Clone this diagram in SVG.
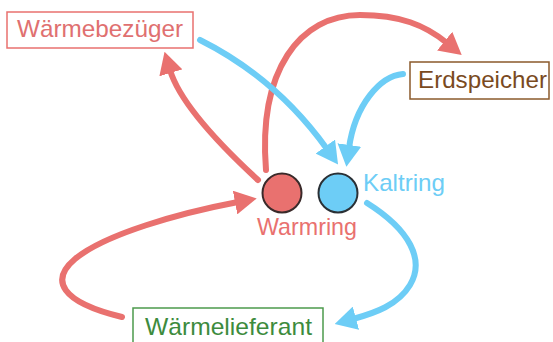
<svg xmlns="http://www.w3.org/2000/svg" width="553" height="342" viewBox="0 0 553 342">
<defs>
<style>
text{font-family:"Liberation Sans",Arial,sans-serif;font-size:24px}
.red{fill:none;stroke:#E9716F;stroke-width:6;stroke-linecap:round}
.blue{fill:none;stroke:#6DCDF6;stroke-width:6;stroke-linecap:round}
</style>
<marker id="ar" viewBox="0 0 22 24" refX="3" refY="12" markerWidth="22" markerHeight="24" markerUnits="userSpaceOnUse" orient="auto"><path d="M0,0 L22,12 L0,24 z" fill="#E9716F"/></marker>
<marker id="ab" viewBox="0 0 22 24" refX="3" refY="12" markerWidth="22" markerHeight="24" markerUnits="userSpaceOnUse" orient="auto"><path d="M0,0 L22,12 L0,24 z" fill="#6DCDF6"/></marker>
</defs>
<rect width="553" height="342" fill="#fff"/>
<g id="connectors">
<path class="red" d="M258,180 Q182,110 170,70" marker-end="url(#ar)"/>
<path class="red" d="M266,170 C258,70 300,15 360,15 C400,15 425,25 447,43" marker-end="url(#ar)"/>
<path class="blue" d="M200,40 Q276,78 327,149" marker-end="url(#ab)"/>
<path class="blue" d="M403,74 C380,76 355,105 349,148" marker-end="url(#ab)"/>
<path class="blue" d="M367,203 C410,230 425,260 410,285 C398,305 375,313 353,319" marker-end="url(#ab)"/>
<path class="red" d="M122,317 C60,302 50,280 75,259 C105,234 180,213 238,202" marker-end="url(#ar)"/>
</g>
<g id="waermebezueger">
<rect x="7" y="12" width="186" height="36" fill="#fff" stroke="#E9716F" stroke-width="1.5"/>
<text x="17" y="37" fill="#E07070" textLength="166" lengthAdjust="spacingAndGlyphs">Wärmebezüger</text>
</g>
<g id="erdspeicher">
<rect x="410" y="62" width="139" height="37" fill="#fff" stroke="#8B5A2B" stroke-width="1.5"/>
<text x="418" y="88" fill="#7A4A1E" textLength="129" lengthAdjust="spacingAndGlyphs">Erdspeicher</text>
</g>
<g id="waermelieferant">
<rect x="133" y="308" width="190" height="40" fill="#fff" stroke="#4C9A4C" stroke-width="1.5"/>
<text x="145" y="335" fill="#3D8B3D" textLength="167" lengthAdjust="spacingAndGlyphs">Wärmelieferant</text>
</g>
<g id="warmring">
<circle cx="282" cy="193" r="19.5" fill="#E9716F" stroke="#3a2a2a" stroke-width="2"/>
<text x="257" y="235" fill="#E9716F" textLength="100" lengthAdjust="spacingAndGlyphs">Warmring</text>
</g>
<g id="kaltring">
<circle cx="338" cy="193" r="19.5" fill="#6DCDF6" stroke="#2a3035" stroke-width="2"/>
<text x="363" y="191" fill="#6DCDF6" textLength="82" lengthAdjust="spacingAndGlyphs">Kaltring</text>
</g>
</svg>
